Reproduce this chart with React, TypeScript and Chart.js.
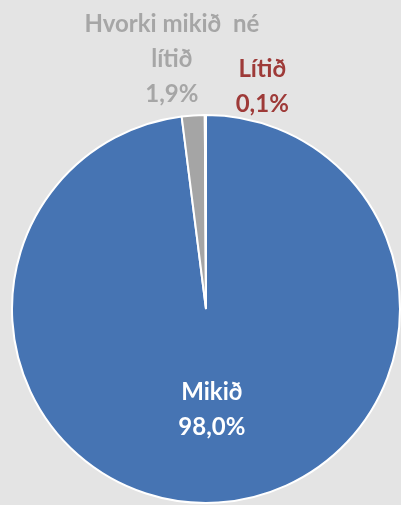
import React, { useEffect, useRef } from "react";
import { Chart, registerables } from "chart.js";

Chart.register(...registerables);

const categories = ["Mikið", "Hvorki mikið né lítið", "Lítið"];
const values = [98.0, 1.9, 0.1];
const valueLabels = ["98,0%", "1,9%", "0,1%"];
const labelLines = [["Mikið"], ["Hvorki mikið  né", "lítið"], ["Lítið"]];

const sliceColors = ["#4674B3", "#A5A5A5", "#9E3A38"];
const labelColors = ["#FFFFFF", "#A6A6A6", "#9E3A38"];

// label anchor offsets (dx, dy of first baseline) relative to pie centre, in units of radius
const labelAnchors = [
  { dx: 0.03, dy: 0.47 },
  { dx: -0.176, dy: -1.43 },
  { dx: 0.29, dy: -1.194 },
];

const FONT = "bold 24px Lato, 'Open Sans', sans-serif";

const labelPlugin = {
  id: "excelLabels",
  afterDatasetsDraw(chart: any) {
    const ctx = chart.ctx;
    const meta = chart.getDatasetMeta(0);
    const arc0 = meta.data[0];
    const cx = arc0.x;
    const cy = arc0.y;
    const r = arc0.outerRadius;
    ctx.save();
    ctx.font = FONT;
    ctx.textAlign = "center";
    ctx.textBaseline = "alphabetic";
    categories.forEach((_, i) => {
      const a = labelAnchors[i];
      const x = cx + a.dx * r;
      let y = cy + a.dy * r;
      ctx.fillStyle = labelColors[i];
      const lines = [...labelLines[i], valueLabels[i]];
      lines.forEach((ln) => {
        ctx.fillText(ln, x, y);
        y += 35;
      });
    });
    ctx.restore();
  },
};

export default function App() {
  const ref = useRef<HTMLCanvasElement>(null);
  useEffect(() => {
    document.body.style.margin = "0";
    document.body.style.background = "#E4E4E4";
    const chart = new Chart(ref.current!, {
      type: "pie",
      data: {
        labels: categories,
        datasets: [
          {
            data: values,
            backgroundColor: sliceColors,
            borderColor: "#FFFFFF",
            borderWidth: 2,
          },
        ],
      },
      options: {
        responsive: false,
        maintainAspectRatio: false,
        animation: false,
        layout: { padding: { left: 11, right: 0, top: 114, bottom: 1 } },
        plugins: {
          legend: { display: false },
          tooltip: { enabled: false },
        },
      },
      plugins: [labelPlugin],
    });
    return () => chart.destroy();
  }, []);
  return (
    <div style={{ width: 401, height: 505, background: "#E4E4E4" }}>
      <canvas ref={ref} width={401} height={505} style={{ display: "block" }} />
    </div>
  );
}
